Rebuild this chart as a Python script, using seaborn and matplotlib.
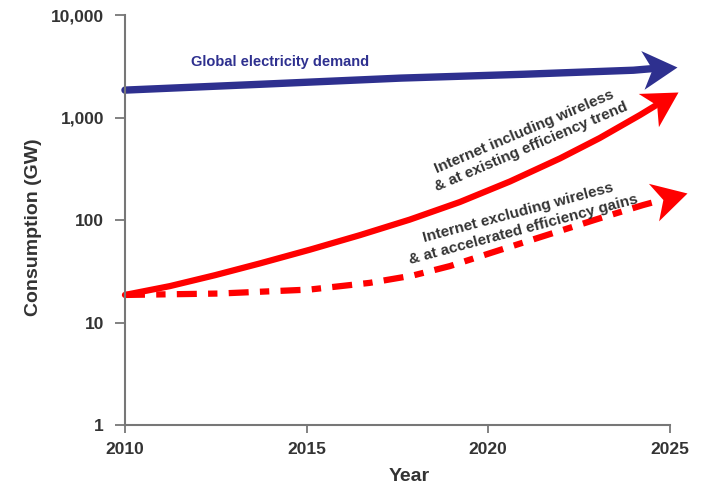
import numpy as np
import seaborn as sns
import matplotlib.pyplot as plt
import matplotlib.ticker as mticker
from matplotlib.markers import MarkerStyle
from matplotlib.path import Path
from matplotlib.transforms import Affine2D
import pandas as pd

# values (GW, log scale); last point = arrow tip
years_global = [2010, 2013.8, 2017.6, 2021, 2024.0, 2025.2]
global_demand = [1855, 2120, 2430, 2650, 2900, 3150]

years_incl = [2010, 2011.24, 2012.48, 2013.72, 2015.09, 2016.47, 2017.84,
              2019.22, 2020.6, 2021.98, 2023.07, 2024.18, 2025.22]
internet_incl = [18.6, 22.7, 29.0, 37.8, 51.4, 71.3, 101, 150, 238, 400, 631, 1059, 1774]

years_excl = [2010, 2012.6, 2015.09, 2016.74, 2017.93, 2018.95, 2020.32,
              2021.7, 2023.07, 2024.26, 2025.47]
internet_excl = [18.6, 19.2, 21.0, 24.4, 28.8, 35.6, 51, 73, 104, 140, 183]

y_ticks = [1, 10, 100, 1000, 10000]
y_ticklabels = ["1", "10", "100", "1,000", "10,000"]
x_ticks = [2010, 2015, 2020, 2025]

navy = "#2e308f"
red = "#ff0000"
grey_txt = "#333333"

sns.set_style("white")
plt.rcParams["font.family"] = ["Liberation Sans", "DejaVu Sans"]

DPI = 100
fig = plt.figure(figsize=(7.02, 4.88), dpi=DPI)
ax = fig.add_axes([0.178, 0.129, 0.776, 0.84])

ax.set_yscale("log")
ax.set_ylim(1, 10000)
ax.set_xlim(2010, 2025)

# notched arrow head, tip at the origin, pointing to +x
head_path = Path([(0, 0), (-1, 0.56), (-0.72, 0), (-1, -0.56), (0, 0)],
                 [Path.MOVETO, Path.LINETO, Path.LINETO, Path.LINETO, Path.CLOSEPOLY])
HEAD_MS = 50


def arrow_line(xs, ys, color, lw, ls="-"):
    tip = ax.transData.transform((xs[-1], ys[-1]))
    prev = ax.transData.transform((xs[-2], ys[-2]))
    d = tip - prev
    ang = np.degrees(np.arctan2(d[1], d[0]))
    unit = d / np.hypot(*d)
    notch = tip - unit * (0.72 * 0.5 * HEAD_MS * DPI / 72 + 1)
    nx, ny = ax.transData.inverted().transform(notch)
    df = pd.DataFrame({"Year": list(xs[:-1]) + [nx], "GW": list(ys[:-1]) + [ny]})
    sns.lineplot(data=df, x="Year", y="GW", ax=ax, color=color, lw=lw,
                 linestyle=ls, clip_on=False, sort=False)
    mk = MarkerStyle(head_path, transform=Affine2D().rotate_deg(ang))
    ax.plot([xs[-1]], [ys[-1]], marker=mk, markersize=HEAD_MS, color=color,
            markeredgewidth=0, clip_on=False, ls="none")


arrow_line(years_global, global_demand, navy, 5.3)
arrow_line(years_incl, internet_incl, red, 4.5)
arrow_line(years_excl, internet_excl, red, 4.5, ls=(0, (3.2, 1.8, 1.5, 1.8)))

ax.set_yticks(y_ticks)
ax.set_yticklabels(y_ticklabels)
ax.yaxis.set_minor_locator(mticker.NullLocator())
ax.set_xticks(x_ticks)

for s in ["top", "right"]:
    ax.spines[s].set_visible(False)
for s in ["left", "bottom"]:
    ax.spines[s].set_color("#777777")
    ax.spines[s].set_linewidth(1.5)

ax.tick_params(axis="both", which="major", direction="out", width=1.3,
               color="#777777", labelsize=12.5, labelcolor=grey_txt)
ax.tick_params(axis="y", length=7, pad=8, left=True)
ax.tick_params(axis="x", length=6, pad=6, bottom=True)
for lab in ax.get_xticklabels() + ax.get_yticklabels():
    lab.set_fontweight("bold")

ax.set_xlabel("Year", fontsize=14, fontweight="bold", color=grey_txt)
ax.set_ylabel("Consumption (GW)", fontsize=14, fontweight="bold", color=grey_txt)
ax.xaxis.set_label_coords(0.521, -0.106)
ax.yaxis.set_label_coords(-0.152, 0.483)

ax.text(2014.27, 3475, "Global electricity demand", color=navy, fontsize=10.5,
        fontweight="bold", ha="center", va="center")
ax.text(2021.09, 616, "Internet including wireless\n& at existing efficiency trend",
        color=grey_txt, fontsize=11, fontweight="bold", ha="center", va="center",
        rotation=23, rotation_mode="anchor", linespacing=1.25)
ax.text(2020.9, 97.6, "Internet excluding wireless\n& at accelerated efficiency gains",
        color=grey_txt, fontsize=11, fontweight="bold", ha="center", va="center",
        rotation=15, rotation_mode="anchor", linespacing=1.25)

fig.savefig("out.png", dpi=DPI)
